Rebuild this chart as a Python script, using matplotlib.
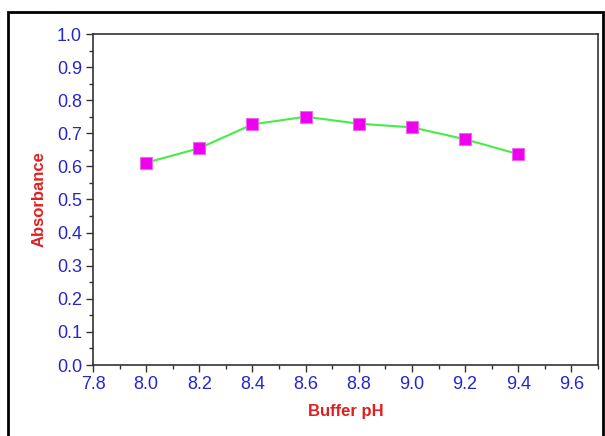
import matplotlib
matplotlib.use("Agg")
import matplotlib.pyplot as plt
from matplotlib.ticker import MultipleLocator, FormatStrFormatter
from matplotlib.patches import Rectangle

ph = [8.0, 8.2, 8.4, 8.6, 8.8, 9.0, 9.2, 9.4]
absorbance = [0.611, 0.655, 0.727, 0.750, 0.729, 0.718, 0.682, 0.637]
x_label = "Buffer pH"
y_label = "Absorbance"

plt.rcParams['font.family'] = ['Liberation Sans', 'DejaVu Sans']

fig = plt.figure(figsize=(6.05, 4.36), dpi=100)
ax = fig.add_axes([93/605, 1-365/436, (598-93)/605, (365-34)/436])

ax.plot(ph, absorbance, color='#44ee44', lw=1.5, marker='s', markersize=8.5,
        markerfacecolor='#ee00ee', markeredgecolor='#ee66ee', markeredgewidth=0.8)

ax.set_xlim(7.8, 9.7)
ax.set_ylim(0.0, 1.0)
ax.set_xticks([7.8 + 0.2*i for i in range(10)])
ax.xaxis.set_minor_locator(MultipleLocator(0.1))
ax.xaxis.set_major_formatter(FormatStrFormatter('%.1f'))
ax.yaxis.set_major_locator(MultipleLocator(0.1))
ax.yaxis.set_minor_locator(MultipleLocator(0.05))
ax.yaxis.set_major_formatter(FormatStrFormatter('%.1f'))

ax.tick_params(which='both', direction='out', colors='#333333', labelcolor='#2626cc',
               labelsize=13, top=False, right=False)
ax.tick_params(which='major', length=5, width=1, pad=3)
ax.tick_params(which='minor', length=3, width=1)
for s in ax.spines.values():
    s.set_color('#333333')
    s.set_linewidth(1.2)

ax.set_xlabel(x_label, color='#e02020', fontsize=12, fontweight='bold', labelpad=8)
ax.set_ylabel(y_label, color='#e02020', fontsize=12, fontweight='bold', labelpad=7)

fig.patches.append(Rectangle((8/605, -0.05), (603-8)/605, 1.05 - 12/436, transform=fig.transFigure,
                             fill=False, edgecolor='black', linewidth=2))

fig.savefig("out.png", dpi=100)
